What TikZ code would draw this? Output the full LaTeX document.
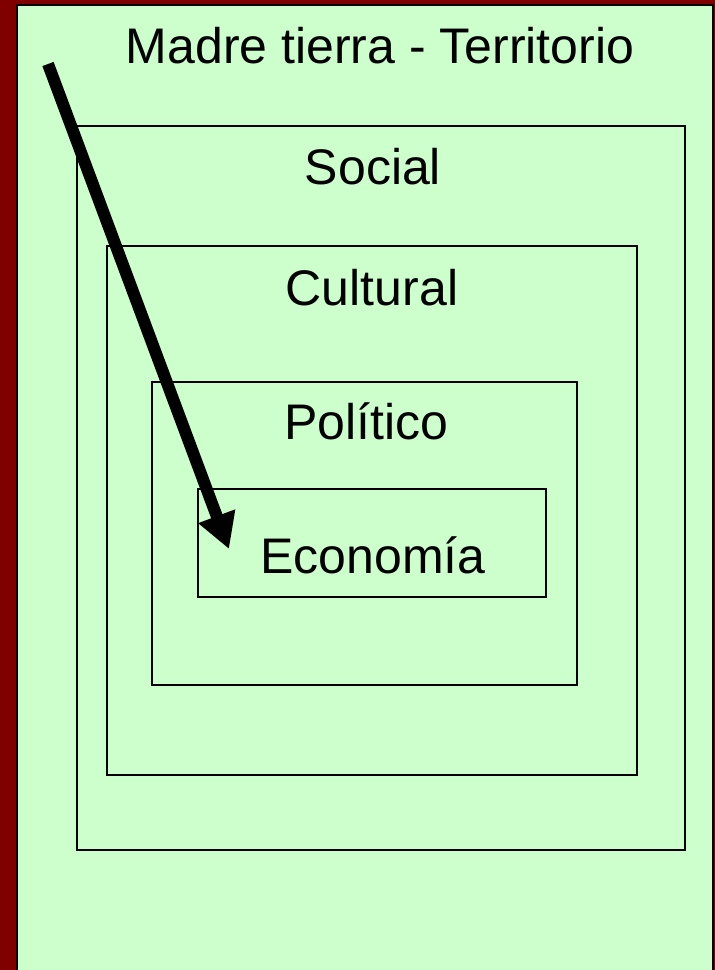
\documentclass[tikz,border=0pt]{standalone}
\usepackage{fontspec}
\setmainfont{Liberation Sans}
\usetikzlibrary{arrows.meta}
\definecolor{marco}{HTML}{800000}
\definecolor{tierra}{HTML}{CCFFCC}

\begin{document}
\begin{tikzpicture}[x=1pt, y=-1pt,
	caja/.style={draw=black, line width=1.6pt},
	rotulo/.style={anchor=base, font=\fontsize{50}{60}\selectfont}]
			%%%%% START %%%%%
			
			\useasboundingbox (0, 0) rectangle (715, 970);
			\fill[marco] (0, 0) rectangle (715, 970);
			\draw[fill=tierra, line width=2pt] (17, 5) rectangle (713, 975);
			
			\draw[caja] (77, 126) rectangle (685, 850);
			\draw[caja] (107, 246) rectangle (637, 775);
			\draw[caja] (152, 382) rectangle (577, 685);
			\draw[caja] (198, 489) rectangle (546, 597);
			
			\node[rotulo] (madre) at (380, 63) {Madre tierra - Territorio};
			\node[rotulo] (social) at (373, 184) {Social};
			\node[rotulo] (cultural) at (372, 305) {Cultural};
			\node[rotulo] (politico) at (366, 439) {Político};
			\node[rotulo] (economia) at (373, 573) {Economía};
			
			\coordinate (inicio) at (48, 64);
			\coordinate (punta) at (229, 549);
			\draw[line width=12pt, -{Triangle[width=37pt, length=35pt]}] (inicio) -- (punta);
			
			%%%%% END %%%%%
\end{tikzpicture}
\end{document}
